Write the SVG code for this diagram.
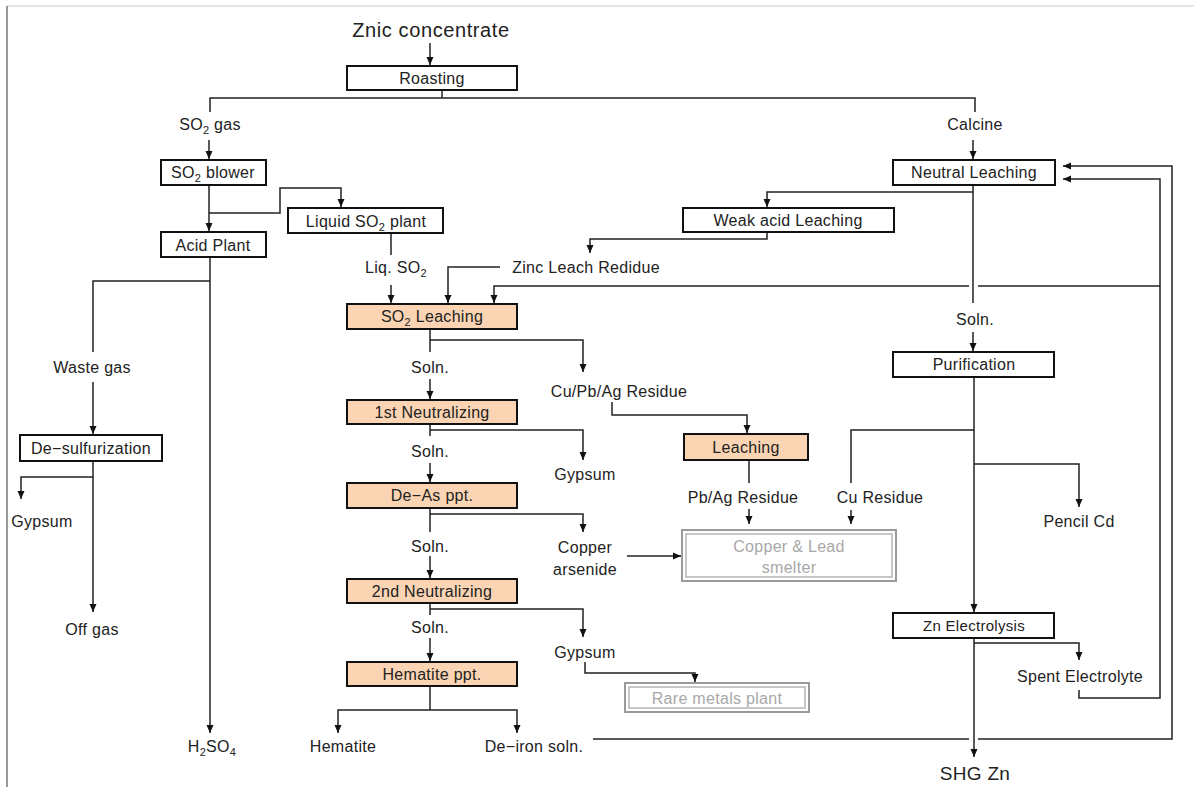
<svg xmlns="http://www.w3.org/2000/svg" width="1194" height="787" viewBox="0 0 1194 787">
<defs>
<marker id="ah" markerUnits="userSpaceOnUse" markerWidth="8" markerHeight="8" refX="8" refY="4" orient="auto">
<path d="M0,0.5 L8,4 L0,7.5 z" fill="#111"/>
</marker>
<style>
text{font-family:"Liberation Sans",Arial,sans-serif;font-size:16px;fill:#222;text-anchor:middle;letter-spacing:0.3px}
.box{fill:#fff;stroke:#111;stroke-width:2}
.pe{fill:#fbd5b3;stroke:#111;stroke-width:2}
.gbo{fill:#fff;stroke:#9a9a9a;stroke-width:2}
.gbi{fill:none;stroke:#b5b5b5;stroke-width:1.5}
.gt{fill:#a8a8a8}
.c{fill:none;stroke:#222;stroke-width:1.5}
.a{marker-end:url(#ah)}
.big{font-size:20px;letter-spacing:0.6px}
.sub{font-size:11px}
</style>
</defs>
<rect x="0" y="0" width="1194" height="787" fill="#fff"/>
<path d="M7,6 H1194" stroke="#dddddd" stroke-width="1.5" fill="none"/>
<path d="M7,6 V787" stroke="#777" stroke-width="1.5" fill="none"/>

<g id="connectors">
<path class="c a" d="M430,43 V65"/>
<path class="c" d="M442,90 V98"/>
<path class="c" d="M210,112 V98 H975 V112"/>
<path class="c a" d="M209,140 V159"/>
<path class="c a" d="M209,185 V231"/>
<path class="c a" d="M209,213 H280 V188 H341 V207"/>
<path class="c" d="M391,233 V255"/>
<path class="c a" d="M391,285 V303"/>
<path class="c a" d="M500,267 H448 V303"/>
<path class="c" d="M1160,286 H978"/>
<path class="c a" d="M969,286 H494 V303"/>
<path class="c a" d="M210,257 V733"/>
<path class="c" d="M210,281 H93 V352"/>
<path class="c a" d="M93,382 V434"/>
<path class="c a" d="M93,461 V612"/>
<path class="c a" d="M93,477 H21 V499"/>
<path class="c a" d="M973,140 V159"/>
<path class="c" d="M973,185 V303"/>
<path class="c a" d="M973,192 H767 V207"/>
<path class="c a" d="M767,232 V239 H590 V253"/>
<path class="c a" d="M973,332 V351"/>
<path class="c a" d="M974,377 V612"/>
<path class="c" d="M974,430 H851 V483"/>
<path class="c a" d="M974,464 H1079 V507"/>
<path class="c a" d="M851,510 V524"/>
<path class="c" d="M749,460 V483"/>
<path class="c a" d="M749,509 V524"/>
<path class="c a" d="M612,402 V415 H747 V433"/>
<path class="c" d="M430,329 V352"/>
<path class="c a" d="M430,340 H583 V372"/>
<path class="c a" d="M430,379 V399"/>
<path class="c" d="M430,424 V436"/>
<path class="c a" d="M430,430 H583 V460"/>
<path class="c a" d="M430,463 V482"/>
<path class="c" d="M430,508 V532"/>
<path class="c a" d="M430,514 H583 V532"/>
<path class="c a" d="M430,556 V578"/>
<path class="c a" d="M627,556 H681"/>
<path class="c" d="M430,603 V615"/>
<path class="c a" d="M430,609 H583 V637"/>
<path class="c a" d="M430,638 V661"/>
<path class="c a" d="M585,662 V673 H695 V682"/>
<path class="c" d="M430,686 V710"/>
<path class="c a" d="M430,710 H338 V733"/>
<path class="c a" d="M430,710 H517 V733"/>
<path class="c" d="M593,739 H969"/>
<path class="c a" d="M978,739 H1172 V166 H1063"/>
<path class="c a" d="M974,638 V757"/>
<path class="c a" d="M974,643 H1079 V660"/>
<path class="c a" d="M1079,690 V698 H1160 V179 H1063"/>
</g>

<g id="n-roasting"><rect class="box" x="347" y="66" width="170" height="24"/><text x="432" y="84">Roasting</text></g>
<g id="n-so2blower"><rect class="box" x="161" y="160" width="105" height="25"/><text x="213" y="178">SO<tspan class="sub" dy="4">2</tspan><tspan dy="-4"> blower</tspan></text></g>
<g id="n-acidplant"><rect class="box" x="161" y="232" width="105" height="25"/><text x="213" y="251">Acid Plant</text></g>
<g id="n-liquidso2"><rect class="box" x="288" y="208" width="155" height="25"/><text x="366" y="227">Liquid SO<tspan class="sub" dy="4">2</tspan><tspan dy="-4"> plant</tspan></text></g>
<g id="n-so2leaching"><rect class="pe" x="347" y="304" width="170" height="25"/><text x="432" y="322">SO<tspan class="sub" dy="4">2</tspan><tspan dy="-4"> Leaching</tspan></text></g>
<g id="n-1stneut"><rect class="pe" x="347" y="400" width="170" height="24"/><text x="432" y="418">1st Neutralizing</text></g>
<g id="n-deas"><rect class="pe" x="347" y="483" width="170" height="25"/><text x="432" y="501">De−As ppt.</text></g>
<g id="n-2ndneut"><rect class="pe" x="347" y="579" width="170" height="24"/><text x="432" y="597">2nd Neutralizing</text></g>
<g id="n-hematiteppt"><rect class="pe" x="347" y="662" width="170" height="24"/><text x="432" y="680">Hematite ppt.</text></g>
<g id="n-leaching"><rect class="pe" x="684" y="434" width="124" height="26"/><text x="746" y="453">Leaching</text></g>
<g id="n-desulf"><rect class="box" x="20" y="435" width="142" height="26"/><text x="91" y="454">De−sulfurization</text></g>
<g id="n-neutral"><rect class="box" x="893" y="160" width="162" height="25"/><text x="974" y="178">Neutral Leaching</text></g>
<g id="n-weakacid"><rect class="box" x="683" y="208" width="211" height="24"/><text x="788" y="226">Weak acid Leaching</text></g>
<g id="n-purification"><rect class="box" x="893" y="352" width="161" height="25"/><text x="974" y="370">Purification</text></g>
<g id="n-znelectrolysis"><rect class="box" x="893" y="613" width="161" height="25"/><text x="974" y="631" style="font-size:15px">Zn Electrolysis</text></g>
<g id="n-smelter"><rect class="gbo" x="682" y="530" width="214" height="51"/><rect class="gbi" x="686" y="534" width="206" height="43"/><text class="gt" x="789" y="552">Copper &amp; Lead</text><text class="gt" x="789" y="573">smelter</text></g>
<g id="n-raremetals"><rect class="gbo" x="625" y="683" width="184" height="29"/><rect class="gbi" x="629" y="687" width="176" height="21"/><text class="gt" x="717" y="704">Rare metals plant</text></g>

<g id="labels">
<text class="big" x="431" y="37">Znic concentrate</text>
<text x="210" y="130">SO<tspan class="sub" dy="4">2</tspan><tspan dy="-4"> gas</tspan></text>
<text x="975" y="130">Calcine</text>
<text x="396" y="273">Liq. SO<tspan class="sub" dy="4">2</tspan></text>
<text x="586" y="273">Zinc Leach Redidue</text>
<text x="430" y="373">Soln.</text>
<text x="430" y="457">Soln.</text>
<text x="430" y="552">Soln.</text>
<text x="430" y="633">Soln.</text>
<text x="975" y="325">Soln.</text>
<text x="619" y="397">Cu/Pb/Ag Residue</text>
<text x="585" y="480">Gypsum</text>
<text x="585" y="553">Copper</text>
<text x="585" y="575">arsenide</text>
<text x="585" y="658">Gypsum</text>
<text x="343" y="752">Hematite</text>
<text x="534" y="752">De−iron soln.</text>
<text x="212" y="752">H<tspan class="sub" dy="4">2</tspan><tspan dy="-4">SO</tspan><tspan class="sub" dy="4">4</tspan></text>
<text x="92" y="373">Waste gas</text>
<text x="42" y="527">Gypsum</text>
<text x="92" y="635">Off gas</text>
<text x="743" y="503">Pb/Ag Residue</text>
<text x="880" y="503">Cu Residue</text>
<text x="1079" y="527">Pencil Cd</text>
<text x="1080" y="682">Spent Electrolyte</text>
<text class="big" x="975" y="780" style="font-size:19px;letter-spacing:0.3px">SHG Zn</text>
</g>
</svg>
